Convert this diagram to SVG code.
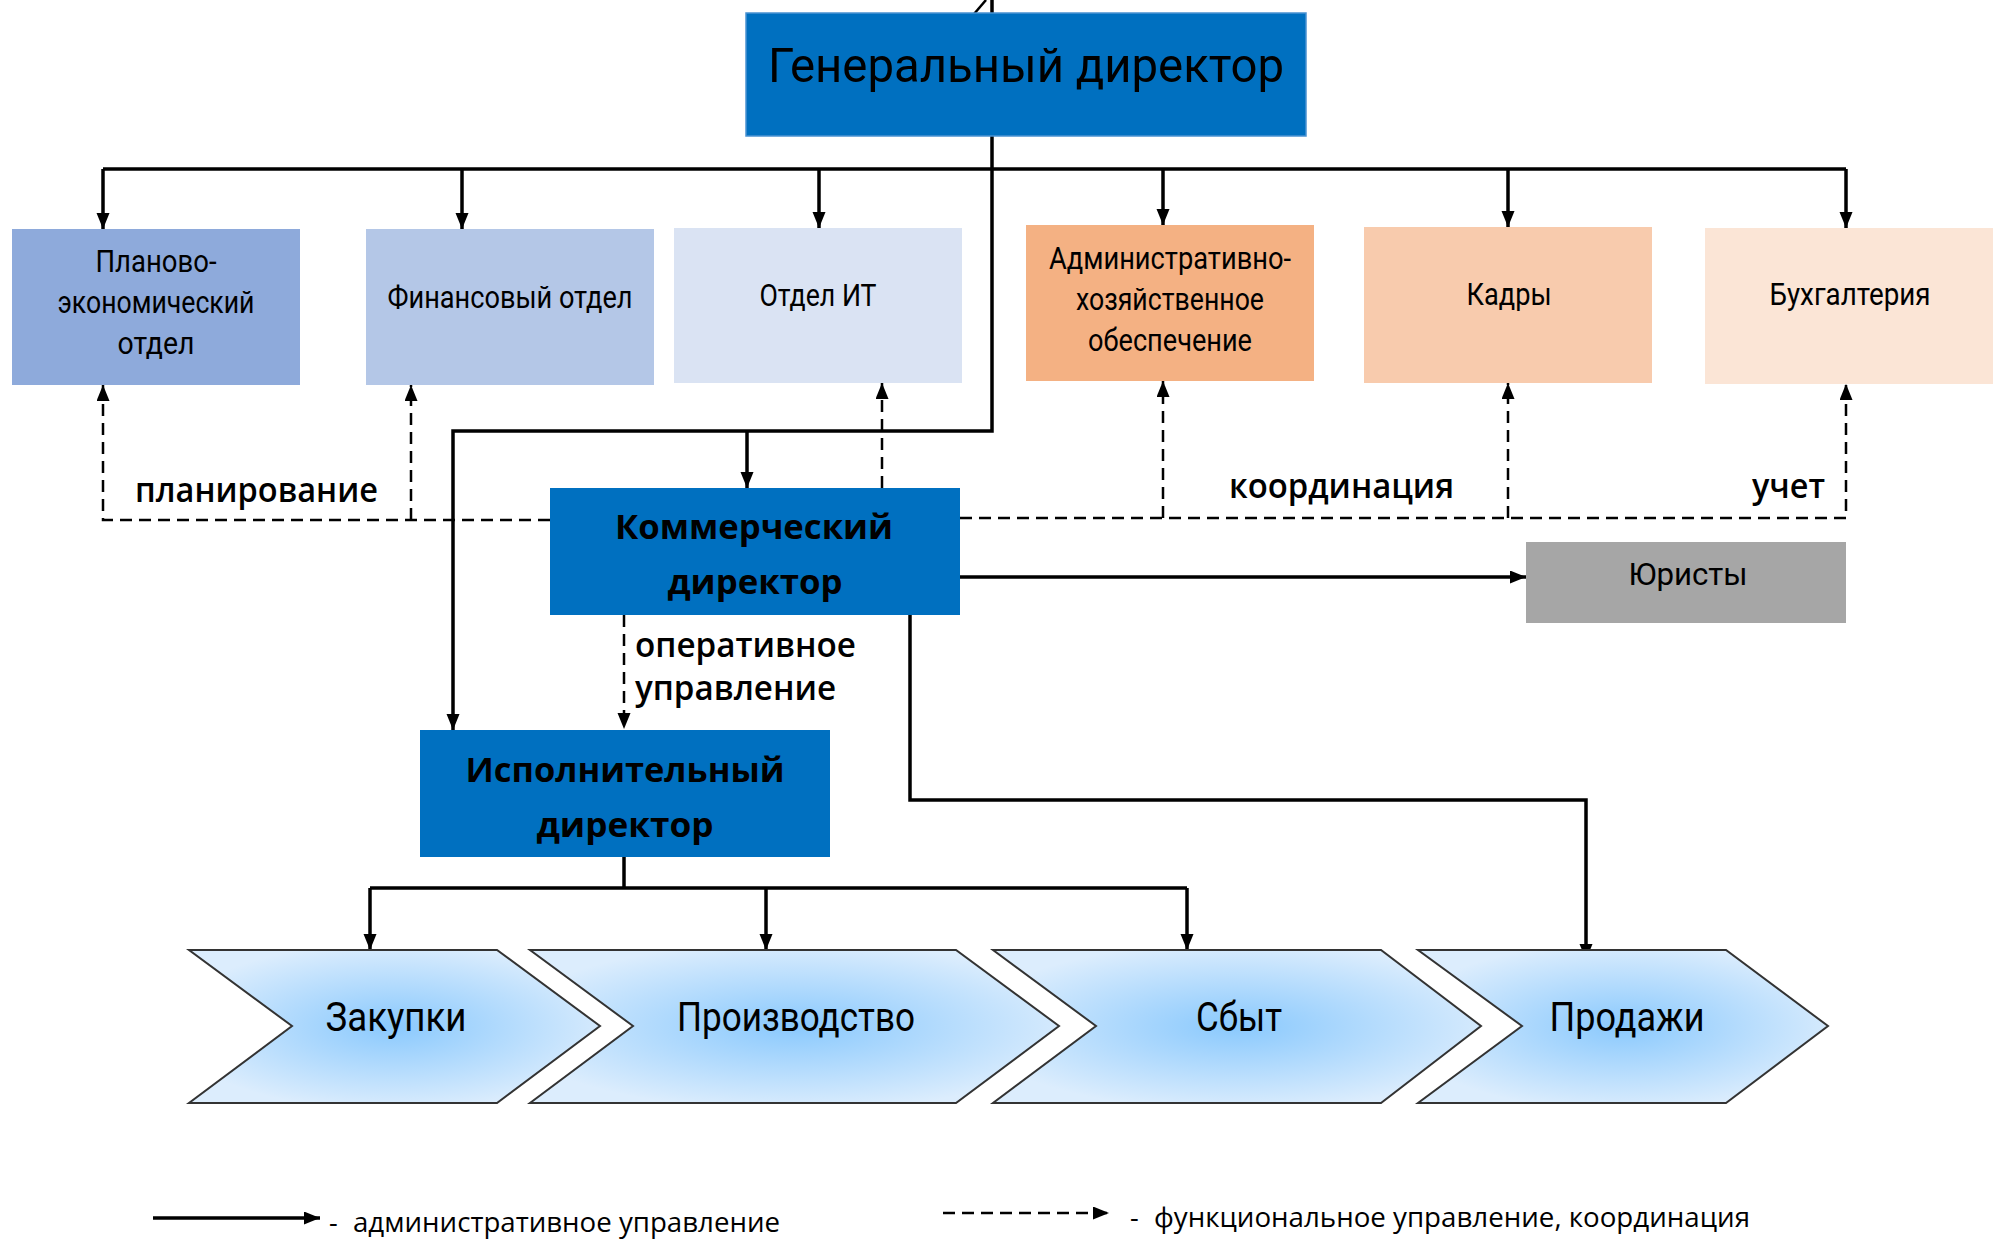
<svg xmlns="http://www.w3.org/2000/svg" width="1999" height="1240" viewBox="0 0 1999 1240">
<style>
.bg{fill:#ffffff}
.t{font-family:Roboto,"Liberation Sans",sans-serif;fill:#000;text-anchor:middle}
.dept{font-size:31px}
.gd{font-size:49px;font-weight:400}
.bold{font-family:"Open Sans","Liberation Sans",sans-serif;font-weight:700;font-size:34px;fill:#000;text-anchor:middle}
.lab{font-family:"Open Sans","Liberation Sans",sans-serif;font-weight:600;font-size:34px;fill:#000}
.leg{font-family:"Open Sans","Liberation Sans",sans-serif;font-size:27px;fill:#000}
.chev{fill:url(#cg);stroke:#333;stroke-width:2;stroke-linejoin:miter}
.chevt{font-size:41px}
.solid{fill:none;stroke:#000;stroke-width:3.5}
.dash{fill:none;stroke:#000;stroke-width:2.5;stroke-dasharray:12 7}
</style>
<defs>
<marker id="ah" markerUnits="userSpaceOnUse" markerWidth="17" markerHeight="14" refX="16" refY="6.5" orient="auto">
<path d="M0,0 L16,6.5 L0,13 z" fill="#000"/>
</marker>
<radialGradient id="cg" cx="0.5" cy="0.5" r="0.55">
<stop offset="0" stop-color="#8ac9fd"/>
<stop offset="1" stop-color="#dcedfd"/>
</radialGradient>
</defs>
<rect class="bg" x="0" y="0" width="1999" height="1240"/>

<g id="connectors">
<line class="solid" x1="992" y1="0" x2="992" y2="13" stroke-width="3"/>
<line x1="974" y1="14" x2="986" y2="0" stroke="#000" stroke-width="2.5"/>
<path class="solid" d="M103,169 H1846"/>
<path class="solid" d="M103,169 V229" marker-end="url(#ah)"/>
<path class="solid" d="M462,169 V229" marker-end="url(#ah)"/>
<path class="solid" d="M819,169 V228" marker-end="url(#ah)"/>
<path class="solid" d="M1163,169 V225" marker-end="url(#ah)"/>
<path class="solid" d="M1508,169 V227" marker-end="url(#ah)"/>
<path class="solid" d="M1846,169 V228" marker-end="url(#ah)"/>
<path class="solid" d="M992,136 V431 H453 V730" marker-end="url(#ah)"/>
<path class="solid" d="M747,431 V488" marker-end="url(#ah)"/>
<path class="solid" d="M960,577 H1526" stroke-width="4.5" marker-end="url(#ah)"/>
<path class="solid" d="M910,615 V800 H1586 V960" marker-end="url(#ah)"/>
<path class="solid" d="M624,857 V888"/>
<path class="solid" d="M370,888 H1187"/>
<path class="solid" d="M370,888 V950" marker-end="url(#ah)"/>
<path class="solid" d="M766,888 V950" marker-end="url(#ah)"/>
<path class="solid" d="M1187,888 V950" marker-end="url(#ah)"/>
<path class="dash" d="M550,520 H103 V385" marker-end="url(#ah)"/>
<path class="dash" d="M411,520 V385" marker-end="url(#ah)"/>
<path class="dash" d="M882,488 V383" marker-end="url(#ah)"/>
<path class="dash" d="M960,518 H1846 V384" marker-end="url(#ah)"/>
<path class="dash" d="M1163,518 V381" marker-end="url(#ah)"/>
<path class="dash" d="M1508,518 V383" marker-end="url(#ah)"/>
<path class="dash" d="M624,615 V729" marker-end="url(#ah)"/>
</g>

<g id="n-general">
<rect x="746" y="13" width="560" height="123" fill="#0070c0" stroke="#4a92d2" stroke-width="1.5"/>
<text class="t gd" x="1026" y="82" textLength="516" lengthAdjust="spacingAndGlyphs">Генеральный директор</text>
</g>

<g id="n-plan">
<rect x="12" y="229" width="288" height="156" fill="#8eaadb"/>
<text class="t dept" x="156" y="272" textLength="121" lengthAdjust="spacingAndGlyphs">Планово-</text>
<text class="t dept" x="156" y="313" textLength="197" lengthAdjust="spacingAndGlyphs">экономический</text>
<text class="t dept" x="156" y="354" textLength="77" lengthAdjust="spacingAndGlyphs">отдел</text>
</g>

<g id="n-fin">
<rect x="366" y="229" width="288" height="156" fill="#b4c7e7"/>
<text class="t dept" x="510" y="308" textLength="245" lengthAdjust="spacingAndGlyphs">Финансовый отдел</text>
</g>

<g id="n-it">
<rect x="674" y="228" width="288" height="155" fill="#dae3f3"/>
<text class="t dept" x="818" y="306" textLength="117" lengthAdjust="spacingAndGlyphs">Отдел ИТ</text>
</g>

<g id="n-adm">
<rect x="1026" y="225" width="288" height="156" fill="#f4b183"/>
<text class="t dept" x="1170" y="269" textLength="242" lengthAdjust="spacingAndGlyphs">Административно-</text>
<text class="t dept" x="1170" y="310" textLength="188" lengthAdjust="spacingAndGlyphs">хозяйственное</text>
<text class="t dept" x="1170" y="351" textLength="164" lengthAdjust="spacingAndGlyphs">обеспечение</text>
</g>

<g id="n-hr">
<rect x="1364" y="227" width="288" height="156" fill="#f8cbad"/>
<text class="t dept" x="1509" y="305" textLength="85" lengthAdjust="spacingAndGlyphs">Кадры</text>
</g>

<g id="n-acc">
<rect x="1705" y="228" width="288" height="156" fill="#fbe5d6"/>
<text class="t dept" x="1850" y="305" textLength="161" lengthAdjust="spacingAndGlyphs">Бухгалтерия</text>
</g>

<g id="n-commercial">
<rect x="550" y="488" width="410" height="127" fill="#0070c0"/>
<text class="bold" x="754" y="539" textLength="278" lengthAdjust="spacingAndGlyphs">Коммерческий</text>
<text class="bold" x="755" y="594" textLength="175" lengthAdjust="spacingAndGlyphs">директор</text>
</g>

<g id="n-lawyers">
<rect x="1526" y="542" width="320" height="81" fill="#a6a6a6"/>
<text class="t dept" x="1688" y="585" textLength="119" lengthAdjust="spacingAndGlyphs">Юристы</text>
</g>

<g id="n-executive">
<rect x="420" y="730" width="410" height="127" fill="#0070c0"/>
<text class="bold" x="625" y="782" textLength="319" lengthAdjust="spacingAndGlyphs">Исполнительный</text>
<text class="bold" x="625" y="837" textLength="177" lengthAdjust="spacingAndGlyphs">директор</text>
</g>

<g id="labels">
<text class="lab" x="135" y="502" textLength="243" lengthAdjust="spacingAndGlyphs">планирование</text>
<text class="lab" x="1229" y="498" textLength="225" lengthAdjust="spacingAndGlyphs">координация</text>
<text class="lab" x="1752" y="498" textLength="73" lengthAdjust="spacingAndGlyphs">учет</text>
<text class="lab" x="635" y="657" textLength="221" lengthAdjust="spacingAndGlyphs">оперативное</text>
<text class="lab" x="635" y="700" textLength="201" lengthAdjust="spacingAndGlyphs">управление</text>
</g>

<g id="n-purchase">
<polygon class="chev" points="189,950 497,950 600,1026 497,1103 189,1103 292,1026"/>
<text class="t chevt" x="396" y="1031" textLength="141" lengthAdjust="spacingAndGlyphs">Закупки</text>
</g>
<g id="n-production">
<polygon class="chev" points="530,950 956,950 1059,1026 956,1103 530,1103 633,1026"/>
<text class="t chevt" x="796" y="1031" textLength="238" lengthAdjust="spacingAndGlyphs">Производство</text>
</g>
<g id="n-distribution">
<polygon class="chev" points="993,950 1381,950 1481,1026 1381,1103 993,1103 1096,1026"/>
<text class="t chevt" x="1239" y="1031" textLength="86" lengthAdjust="spacingAndGlyphs">Сбыт</text>
</g>
<g id="n-sales">
<polygon class="chev" points="1418,950 1726,950 1828,1026 1726,1103 1418,1103 1522,1026"/>
<text class="t chevt" x="1627" y="1031" textLength="155" lengthAdjust="spacingAndGlyphs">Продажи</text>
</g>

<g id="legend">
<path class="solid" d="M153,1218 H320" marker-end="url(#ah)"/>
<text class="leg" x="329" y="1232">-</text>
<text class="leg" x="353" y="1232" textLength="427" lengthAdjust="spacingAndGlyphs">административное управление</text>
<path class="dash" d="M943,1213 H1109" marker-end="url(#ah)"/>
<text class="leg" x="1130" y="1227">-</text>
<text class="leg" x="1154" y="1227" textLength="596" lengthAdjust="spacingAndGlyphs">функциональное управление, координация</text>
</g>
</svg>
